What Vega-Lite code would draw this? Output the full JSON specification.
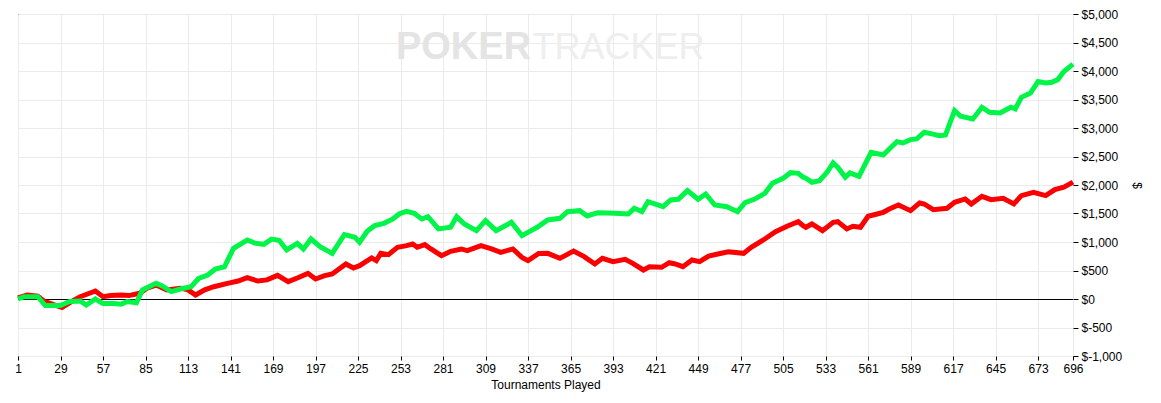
{
  "$schema": "https://vega.github.io/schema/vega-lite/v6.json",
  "width": 1055,
  "height": 342,
  "autosize": {"type": "none"},
  "padding": {"left": 18, "top": 14, "right": 88, "bottom": 47},
  "background": "white",
  "config": {
    "view": {"stroke": "#000000", "strokeWidth": 1},
    "axis": {
      "labelFont": "Liberation Sans",
      "labelFontSize": 12,
      "labelColor": "#000000",
      "titleFont": "Liberation Sans",
      "titleFontSize": 12,
      "titleFontWeight": "normal",
      "titleColor": "#000000",
      "tickColor": "#000000",
      "domainColor": "#000000",
      "gridColor": "#ebebeb",
      "gridWidth": 1,
      "labelOverlap": false,
      "labelFlush": false
    }
  },
  "datasets": {
    "pl": [
      {"s": "Net Won", "t": 1, "v": 20}, {"s": "Net Won", "t": 7, "v": 70}, {"s": "Net Won", "t": 14, "v": 50}, {"s": "Net Won", "t": 18, "v": -35},
      {"s": "Net Won", "t": 30, "v": -150}, {"s": "Net Won", "t": 37, "v": -35}, {"s": "Net Won", "t": 42, "v": 40}, {"s": "Net Won", "t": 52, "v": 140},
      {"s": "Net Won", "t": 57, "v": 40}, {"s": "Net Won", "t": 62, "v": 60}, {"s": "Net Won", "t": 69, "v": 70}, {"s": "Net Won", "t": 74, "v": 60},
      {"s": "Net Won", "t": 81, "v": 100}, {"s": "Net Won", "t": 86, "v": 190}, {"s": "Net Won", "t": 92, "v": 245}, {"s": "Net Won", "t": 99, "v": 160},
      {"s": "Net Won", "t": 108, "v": 190}, {"s": "Net Won", "t": 113, "v": 160}, {"s": "Net Won", "t": 118, "v": 70}, {"s": "Net Won", "t": 124, "v": 160},
      {"s": "Net Won", "t": 130, "v": 215}, {"s": "Net Won", "t": 139, "v": 275}, {"s": "Net Won", "t": 146, "v": 315}, {"s": "Net Won", "t": 152, "v": 375},
      {"s": "Net Won", "t": 159, "v": 315}, {"s": "Net Won", "t": 165, "v": 335}, {"s": "Net Won", "t": 172, "v": 415}, {"s": "Net Won", "t": 179, "v": 304},
      {"s": "Net Won", "t": 185, "v": 369}, {"s": "Net Won", "t": 192, "v": 450}, {"s": "Net Won", "t": 197, "v": 351}, {"s": "Net Won", "t": 203, "v": 410},
      {"s": "Net Won", "t": 208, "v": 439}, {"s": "Net Won", "t": 217, "v": 614}, {"s": "Net Won", "t": 222, "v": 544}, {"s": "Net Won", "t": 226, "v": 585},
      {"s": "Net Won", "t": 234, "v": 720}, {"s": "Net Won", "t": 237, "v": 673}, {"s": "Net Won", "t": 240, "v": 801}, {"s": "Net Won", "t": 245, "v": 778},
      {"s": "Net Won", "t": 251, "v": 907}, {"s": "Net Won", "t": 257, "v": 936}, {"s": "Net Won", "t": 261, "v": 965}, {"s": "Net Won", "t": 264, "v": 907},
      {"s": "Net Won", "t": 269, "v": 954}, {"s": "Net Won", "t": 273, "v": 878}, {"s": "Net Won", "t": 280, "v": 760}, {"s": "Net Won", "t": 286, "v": 836},
      {"s": "Net Won", "t": 293, "v": 878}, {"s": "Net Won", "t": 297, "v": 848}, {"s": "Net Won", "t": 306, "v": 936}, {"s": "Net Won", "t": 313, "v": 878},
      {"s": "Net Won", "t": 319, "v": 819}, {"s": "Net Won", "t": 327, "v": 878}, {"s": "Net Won", "t": 333, "v": 731}, {"s": "Net Won", "t": 337, "v": 673},
      {"s": "Net Won", "t": 344, "v": 800}, {"s": "Net Won", "t": 350, "v": 801}, {"s": "Net Won", "t": 358, "v": 713}, {"s": "Net Won", "t": 367, "v": 842},
      {"s": "Net Won", "t": 374, "v": 743}, {"s": "Net Won", "t": 381, "v": 614}, {"s": "Net Won", "t": 386, "v": 713}, {"s": "Net Won", "t": 393, "v": 655},
      {"s": "Net Won", "t": 401, "v": 696}, {"s": "Net Won", "t": 406, "v": 626}, {"s": "Net Won", "t": 413, "v": 509}, {"s": "Net Won", "t": 417, "v": 567},
      {"s": "Net Won", "t": 425, "v": 556}, {"s": "Net Won", "t": 430, "v": 637}, {"s": "Net Won", "t": 434, "v": 614}, {"s": "Net Won", "t": 439, "v": 567},
      {"s": "Net Won", "t": 445, "v": 684}, {"s": "Net Won", "t": 450, "v": 655}, {"s": "Net Won", "t": 456, "v": 754}, {"s": "Net Won", "t": 462, "v": 789},
      {"s": "Net Won", "t": 469, "v": 830}, {"s": "Net Won", "t": 479, "v": 801}, {"s": "Net Won", "t": 484, "v": 906}, {"s": "Net Won", "t": 492, "v": 1035},
      {"s": "Net Won", "t": 500, "v": 1181}, {"s": "Net Won", "t": 508, "v": 1281}, {"s": "Net Won", "t": 515, "v": 1357}, {"s": "Net Won", "t": 518, "v": 1290},
      {"s": "Net Won", "t": 520, "v": 1258}, {"s": "Net Won", "t": 524, "v": 1316}, {"s": "Net Won", "t": 531, "v": 1199}, {"s": "Net Won", "t": 538, "v": 1346},
      {"s": "Net Won", "t": 541, "v": 1357}, {"s": "Net Won", "t": 547, "v": 1229}, {"s": "Net Won", "t": 551, "v": 1275}, {"s": "Net Won", "t": 556, "v": 1258},
      {"s": "Net Won", "t": 561, "v": 1451}, {"s": "Net Won", "t": 567, "v": 1492}, {"s": "Net Won", "t": 571, "v": 1521}, {"s": "Net Won", "t": 575, "v": 1580},
      {"s": "Net Won", "t": 581, "v": 1650}, {"s": "Net Won", "t": 589, "v": 1550}, {"s": "Net Won", "t": 595, "v": 1685}, {"s": "Net Won", "t": 598, "v": 1667},
      {"s": "Net Won", "t": 604, "v": 1568}, {"s": "Net Won", "t": 613, "v": 1591}, {"s": "Net Won", "t": 618, "v": 1697}, {"s": "Net Won", "t": 625, "v": 1755},
      {"s": "Net Won", "t": 629, "v": 1667}, {"s": "Net Won", "t": 636, "v": 1802}, {"s": "Net Won", "t": 642, "v": 1743}, {"s": "Net Won", "t": 650, "v": 1767},
      {"s": "Net Won", "t": 657, "v": 1667}, {"s": "Net Won", "t": 662, "v": 1813}, {"s": "Net Won", "t": 670, "v": 1872}, {"s": "Net Won", "t": 678, "v": 1813},
      {"s": "Net Won", "t": 684, "v": 1919}, {"s": "Net Won", "t": 690, "v": 1960}, {"s": "Net Won", "t": 696, "v": 2050},

      {"s": "Total Won", "t": 1, "v": 0}, {"s": "Total Won", "t": 5, "v": 40}, {"s": "Total Won", "t": 14, "v": 40}, {"s": "Total Won", "t": 19, "v": -115},
      {"s": "Total Won", "t": 29, "v": -115}, {"s": "Total Won", "t": 35, "v": -45}, {"s": "Total Won", "t": 42, "v": -35}, {"s": "Total Won", "t": 46, "v": -105},
      {"s": "Total Won", "t": 52, "v": 0}, {"s": "Total Won", "t": 57, "v": -80}, {"s": "Total Won", "t": 64, "v": -80}, {"s": "Total Won", "t": 69, "v": -90},
      {"s": "Total Won", "t": 73, "v": -45}, {"s": "Total Won", "t": 79, "v": -65}, {"s": "Total Won", "t": 83, "v": 160}, {"s": "Total Won", "t": 92, "v": 275},
      {"s": "Total Won", "t": 96, "v": 230}, {"s": "Total Won", "t": 102, "v": 130}, {"s": "Total Won", "t": 108, "v": 175}, {"s": "Total Won", "t": 115, "v": 215},
      {"s": "Total Won", "t": 120, "v": 360}, {"s": "Total Won", "t": 126, "v": 420}, {"s": "Total Won", "t": 131, "v": 525}, {"s": "Total Won", "t": 137, "v": 565},
      {"s": "Total Won", "t": 143, "v": 890}, {"s": "Total Won", "t": 152, "v": 1035}, {"s": "Total Won", "t": 157, "v": 980}, {"s": "Total Won", "t": 163, "v": 960},
      {"s": "Total Won", "t": 168, "v": 1050}, {"s": "Total Won", "t": 173, "v": 1030}, {"s": "Total Won", "t": 178, "v": 860}, {"s": "Total Won", "t": 185, "v": 977},
      {"s": "Total Won", "t": 189, "v": 878}, {"s": "Total Won", "t": 194, "v": 1053}, {"s": "Total Won", "t": 200, "v": 918}, {"s": "Total Won", "t": 208, "v": 801},
      {"s": "Total Won", "t": 216, "v": 1129}, {"s": "Total Won", "t": 223, "v": 1082}, {"s": "Total Won", "t": 226, "v": 994}, {"s": "Total Won", "t": 231, "v": 1188},
      {"s": "Total Won", "t": 236, "v": 1287}, {"s": "Total Won", "t": 242, "v": 1328}, {"s": "Total Won", "t": 248, "v": 1404}, {"s": "Total Won", "t": 252, "v": 1492},
      {"s": "Total Won", "t": 257, "v": 1539}, {"s": "Total Won", "t": 262, "v": 1503}, {"s": "Total Won", "t": 267, "v": 1404}, {"s": "Total Won", "t": 271, "v": 1445},
      {"s": "Total Won", "t": 278, "v": 1229}, {"s": "Total Won", "t": 286, "v": 1258}, {"s": "Total Won", "t": 290, "v": 1445}, {"s": "Total Won", "t": 295, "v": 1316},
      {"s": "Total Won", "t": 303, "v": 1199}, {"s": "Total Won", "t": 309, "v": 1375}, {"s": "Total Won", "t": 316, "v": 1199}, {"s": "Total Won", "t": 326, "v": 1346},
      {"s": "Total Won", "t": 333, "v": 1112}, {"s": "Total Won", "t": 339, "v": 1199}, {"s": "Total Won", "t": 343, "v": 1258}, {"s": "Total Won", "t": 350, "v": 1386},
      {"s": "Total Won", "t": 358, "v": 1415}, {"s": "Total Won", "t": 363, "v": 1532}, {"s": "Total Won", "t": 371, "v": 1550}, {"s": "Total Won", "t": 376, "v": 1456},
      {"s": "Total Won", "t": 383, "v": 1515}, {"s": "Total Won", "t": 394, "v": 1503}, {"s": "Total Won", "t": 403, "v": 1491}, {"s": "Total Won", "t": 407, "v": 1591},
      {"s": "Total Won", "t": 412, "v": 1532}, {"s": "Total Won", "t": 416, "v": 1708}, {"s": "Total Won", "t": 426, "v": 1620}, {"s": "Total Won", "t": 431, "v": 1737},
      {"s": "Total Won", "t": 436, "v": 1749}, {"s": "Total Won", "t": 442, "v": 1901}, {"s": "Total Won", "t": 449, "v": 1749}, {"s": "Total Won", "t": 454, "v": 1842},
      {"s": "Total Won", "t": 460, "v": 1649}, {"s": "Total Won", "t": 468, "v": 1620}, {"s": "Total Won", "t": 475, "v": 1532}, {"s": "Total Won", "t": 480, "v": 1690},
      {"s": "Total Won", "t": 486, "v": 1749}, {"s": "Total Won", "t": 493, "v": 1854}, {"s": "Total Won", "t": 498, "v": 2029}, {"s": "Total Won", "t": 505, "v": 2117},
      {"s": "Total Won", "t": 510, "v": 2216}, {"s": "Total Won", "t": 515, "v": 2205}, {"s": "Total Won", "t": 518, "v": 2140}, {"s": "Total Won", "t": 520, "v": 2118},
      {"s": "Total Won", "t": 524, "v": 2048}, {"s": "Total Won", "t": 529, "v": 2077}, {"s": "Total Won", "t": 534, "v": 2223}, {"s": "Total Won", "t": 538, "v": 2387},
      {"s": "Total Won", "t": 541, "v": 2311}, {"s": "Total Won", "t": 546, "v": 2135}, {"s": "Total Won", "t": 549, "v": 2211}, {"s": "Total Won", "t": 555, "v": 2153},
      {"s": "Total Won", "t": 563, "v": 2574}, {"s": "Total Won", "t": 571, "v": 2527}, {"s": "Total Won", "t": 575, "v": 2633}, {"s": "Total Won", "t": 580, "v": 2761},
      {"s": "Total Won", "t": 584, "v": 2738}, {"s": "Total Won", "t": 589, "v": 2796}, {"s": "Total Won", "t": 593, "v": 2808}, {"s": "Total Won", "t": 598, "v": 2925},
      {"s": "Total Won", "t": 603, "v": 2896}, {"s": "Total Won", "t": 608, "v": 2866}, {"s": "Total Won", "t": 612, "v": 2878}, {"s": "Total Won", "t": 618, "v": 3305},
      {"s": "Total Won", "t": 622, "v": 3206}, {"s": "Total Won", "t": 630, "v": 3159}, {"s": "Total Won", "t": 636, "v": 3364}, {"s": "Total Won", "t": 641, "v": 3276},
      {"s": "Total Won", "t": 648, "v": 3264}, {"s": "Total Won", "t": 655, "v": 3364}, {"s": "Total Won", "t": 658, "v": 3335}, {"s": "Total Won", "t": 662, "v": 3539},
      {"s": "Total Won", "t": 668, "v": 3615}, {"s": "Total Won", "t": 673, "v": 3814}, {"s": "Total Won", "t": 678, "v": 3791}, {"s": "Total Won", "t": 682, "v": 3803},
      {"s": "Total Won", "t": 686, "v": 3849}, {"s": "Total Won", "t": 690, "v": 3990}, {"s": "Total Won", "t": 696, "v": 4120}
    ],
    "wm": [{"word": "POKER"}]
  },
  "layer": [
    {
      "data": {"name": "wm"},
      "mark": {"type": "text", "text": "POKER", "align": "right", "baseline": "middle", "font": "Liberation Sans", "fontWeight": "bold", "fontSize": 38, "color": "#e4e4e4"},
      "encoding": {
        "x": {
          "datum": 339, "type": "quantitative",
          "scale": {"domain": [1, 696], "nice": false, "zero": false},
          "axis": {
            "title": "Tournaments Played",
            "values": [1, 29, 57, 85, 113, 141, 169, 197, 225, 253, 281, 309, 337, 365, 393, 421, 449, 477, 505, 533, 561, 589, 617, 645, 673, 696],
            "tickCount": 30,
            "domain": false, "tickSize": 4, "labelPadding": 3, "titlePadding": 5,
            "labelOverlap": false, "labelFlush": false, "grid": true
          }
        },
        "y": {
          "datum": 4400, "type": "quantitative",
          "scale": {"domain": [-1000, 5000], "nice": false, "zero": false},
          "axis": {
            "orient": "right", "title": "$",
            "values": [-1000, -500, 0, 500, 1000, 1500, 2000, 2500, 3000, 3500, 4000, 4500, 5000],
            "tickCount": 13,
            "format": "$,.0f",
            "labelExpr": "replace(datum.label, '\u2212$', '$-')",
            "domain": false, "tickSize": 5, "labelPadding": 3, "titlePadding": 8,
            "labelOverlap": false, "labelFlush": false, "labelBound": false, "grid": true
          }
        }
      }
    },
    {
      "data": {"name": "wm"},
      "mark": {"type": "text", "text": "TRACKER", "align": "left", "baseline": "middle", "font": "Liberation Sans", "fontSize": 36, "color": "#eeeeee"},
      "encoding": {
        "x": {"datum": 340, "type": "quantitative"},
        "y": {"datum": 4400, "type": "quantitative"}
      }
    },
    {
      "data": {"name": "wm"},
      "mark": {"type": "rule", "color": "#000000", "strokeWidth": 1, "yOffset": 0.5},
      "encoding": {"y": {"datum": 0, "type": "quantitative"}}
    },
    {
      "data": {"name": "pl"},
      "transform": [{"filter": "datum.s === 'Net Won'"}],
      "mark": {"type": "line", "color": "#fa0000", "strokeWidth": 5, "strokeJoin": "miter"},
      "encoding": {
        "x": {"field": "t", "type": "quantitative"},
        "y": {"field": "v", "type": "quantitative"}
      }
    },
    {
      "data": {"name": "pl"},
      "transform": [{"filter": "datum.s === 'Total Won'"}],
      "mark": {"type": "line", "color": "#00f548", "strokeWidth": 5, "strokeJoin": "miter"},
      "encoding": {
        "x": {"field": "t", "type": "quantitative"},
        "y": {"field": "v", "type": "quantitative"}
      }
    }
  ]
}
